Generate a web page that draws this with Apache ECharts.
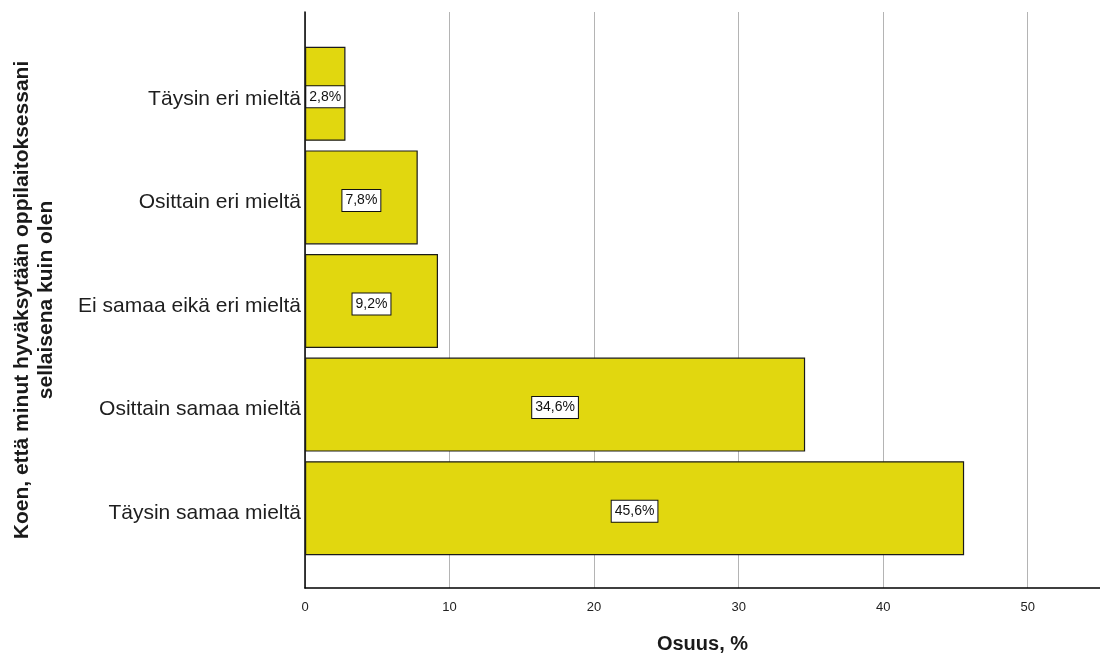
<!DOCTYPE html>
<html>
<head>
<meta charset="utf-8">
<script src="https://cdn.jsdelivr.net/npm/echarts@6/dist/echarts.min.js"></script>
<style>
html,body{margin:0;padding:0;background:#fff;}
#chart{width:1100px;height:655px;}
</style>
</head>
<body>
<div id="chart"></div>
<script>
// Response categories, top to bottom
const categories = ['Täysin eri mieltä', 'Osittain eri mieltä', 'Ei samaa eikä eri mieltä', 'Osittain samaa mieltä', 'Täysin samaa mieltä'];
// Share of respondents, %
const shares = [2.8, 7.8, 9.2, 34.6, 45.6];
const xTicks = [0, 10, 20, 30, 40, 50];

const FONT = 'Arial, "Liberation Sans", sans-serif';
const fmt = v => v.toFixed(1).replace('.', ',');

const chart = echarts.init(document.getElementById('chart'), null, {renderer: 'canvas'});
chart.setOption({
  animation: false,
  backgroundColor: '#ffffff',
  grid: [
    {left: 305, right: 0, top: 12, bottom: 67, outerBoundsMode: 'none', containLabel: false},
    {left: 305, right: 0, top: 42, bottom: 95, outerBoundsMode: 'none', containLabel: false}
  ],
  xAxis: [
    {
      gridIndex: 0, type: 'value', min: 0, max: 55, interval: 10,
      axisLine: {show: true, lineStyle: {color: '#000', width: 1.5}},
      axisTick: {show: false},
      splitLine: {show: true, lineStyle: {color: '#b4b4b4', width: 1}},
      axisLabel: {
        fontFamily: FONT, fontSize: 13, color: '#222', margin: 13,
        showMaxLabel: false,
        formatter: v => xTicks.includes(v) ? String(v) : ''
      },
      name: 'Osuus, %', nameLocation: 'middle', nameGap: 46,
      nameTextStyle: {fontFamily: FONT, fontSize: 20, fontWeight: 'bold', color: '#1a1a1a'}
    },
    {gridIndex: 1, type: 'value', min: 0, max: 55, show: false}
  ],
  yAxis: [
    {
      gridIndex: 0, type: 'value', min: 0, max: 1,
      axisLine: {show: true, lineStyle: {color: '#000', width: 1.5}},
      axisTick: {show: false}, axisLabel: {show: false}, splitLine: {show: false}
    },
    {
      gridIndex: 1, type: 'category', data: categories, inverse: true,
      axisLine: {show: false}, axisTick: {show: false}, splitLine: {show: false},
      axisLabel: {
        fontFamily: FONT, fontSize: 21, color: '#1e1e1e', margin: 4,
        verticalAlign: 'top', lineHeight: 10
      }
    }
  ],
  graphic: [{
    type: 'text', x: 34, y: 300, rotation: Math.PI / 2,
    style: {
      text: 'Koen, että minut hyväksytään oppilaitoksessani\nsellaisena kuin olen',
      font: 'bold 21px ' + FONT, fill: '#1a1a1a', lineHeight: 24,
      textAlign: 'center', textVerticalAlign: 'middle'
    }
  }],
  series: [{
    type: 'bar', xAxisIndex: 1, yAxisIndex: 1,
    data: shares, barWidth: 94,
    itemStyle: {color: '#e1d70f', borderColor: '#1a1a1a', borderWidth: 1.2},
    label: {
      show: true, position: 'inside', offset: [0, 3],
      formatter: p => fmt(p.value) + '%',
      fontFamily: FONT, fontSize: 14, color: '#111',
      backgroundColor: '#fff', borderColor: '#111', borderWidth: 1,
      padding: [4, 3, 3, 3]
    }
  }]
});
</script>
</body>
</html>
